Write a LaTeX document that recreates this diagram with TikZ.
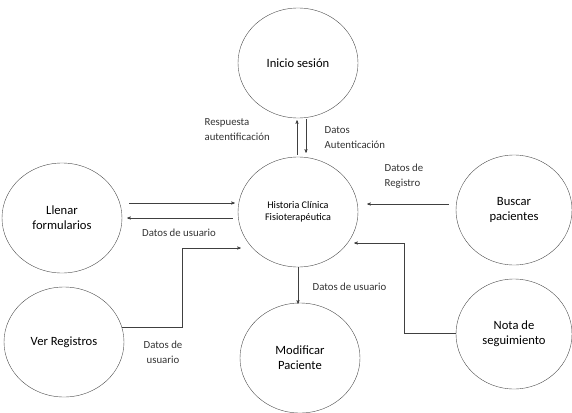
\documentclass[tikz,border=0pt]{standalone}
\usepackage{fontspec}
\setmainfont{Carlito}
\usetikzlibrary{arrows,shapes,positioning}

\begin{document}
\begin{tikzpicture}[x=1pt,y=-1pt,>=stealth',semithick,
    proc/.style={ellipse, draw=black!70, thin, minimum width=120pt, minimum height=110pt, align=center, font=\fontsize{12.6}{15}\selectfont},
    lbl/.style={align=left, font=\fontsize{10.8}{15}\selectfont, text=black!80},
    flow/.style={->, draw=black!75, thin}]
      \useasboundingbox (0,0) rectangle (572,412);

      \node[proc, font=\fontsize{10.2}{11.5}\selectfont] (hist) at (298,212) {Historia Clínica\\Fisioterapéutica};
      \node[proc] (inicio) at (298,63) {Inicio sesión};
      \node[proc] (llenar) at (62,218) {Llenar\\formularios};
      \node[proc] (ver) at (64,342) {Ver Registros};
      \node[proc] (modif) at (300,358) {Modificar\\Paciente};
      \node[proc, minimum width=116pt] (nota) at (514,334) {Nota de\\seguimiento};
      \node[proc, minimum width=116pt] (buscar) at (514,210) {Buscar\\pacientes};

      % inicio de sesion
      \draw[flow] ([xshift=-1pt,yshift=2pt]hist.north) -- ([xshift=-1pt,yshift=-2pt]inicio.south);
      \draw[flow] ([xshift=8pt,yshift=-1pt]inicio.south) -- ([xshift=8pt,yshift=4pt]hist.north);
      \node[lbl, anchor=west] (resp) at (201,130) {Respuesta\\autentificación};
      \node[lbl, anchor=west] (datauth) at (321,138) {Datos\\Autenticación};

      % formularios
      \draw[flow] ([xshift=7pt,yshift=15pt]llenar.east) -- ([xshift=-3pt,yshift=9pt]hist.west);
      \draw[flow] ([xshift=-5pt,yshift=-6pt]hist.west) -- ([xshift=5pt]llenar.east);
      \node[lbl] (usu1) at (179,233) {Datos de usuario};

      % registros
      \draw[flow] ([xshift=-2pt,yshift=15pt]ver.east) -- ++(60,0) |- ([xshift=3pt,yshift=-36pt]hist.west);
      \node[lbl, align=center] (usu2) at (163,352) {Datos de\\usuario};

      % modificar
      \draw[flow] (hist.south) -- ([xshift=-2pt,yshift=-1pt]modif.north);
      \node[lbl, anchor=west] (usu3) at (309,287) {Datos de usuario};

      % nota de seguimiento
      \draw[flow] ([yshift=1pt]nota.west) -- ++(-52,0) |- ([xshift=-4pt,yshift=-31pt]hist.east);

      % buscar
      \draw[flow] ([xshift=-7pt,yshift=6pt]buscar.west) -- ([xshift=9pt,yshift=8pt]hist.east);
      \node[lbl, anchor=west] (reg) at (381,176) {Datos de\\Registro};
    \end{tikzpicture}
\end{document}
